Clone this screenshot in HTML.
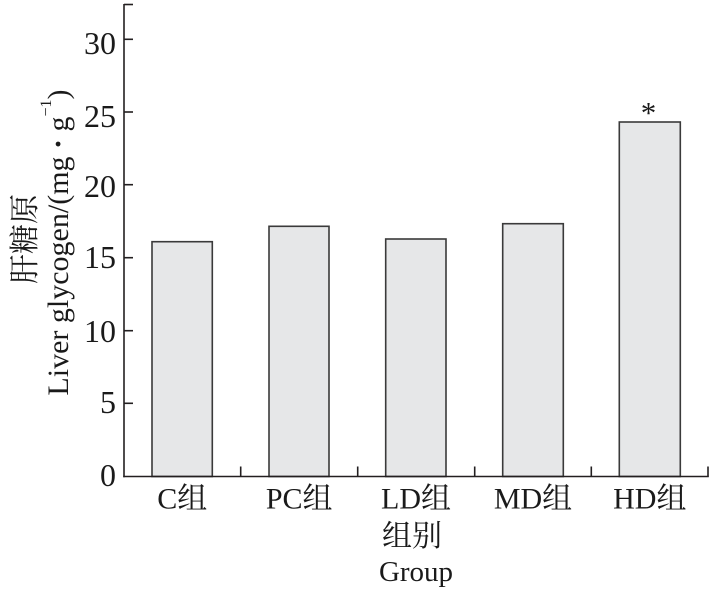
<!DOCTYPE html>
<html>
<head>
<meta charset="utf-8">
<style>
  html,body{margin:0;padding:0;background:#fff;}
  svg{display:block;font-family:"Liberation Serif","Times New Roman",Times,"Noto Serif CJK SC","DejaVu Serif",serif;}
  text{font-family:"Liberation Serif","Times New Roman",Times,"Noto Serif CJK SC","DejaVu Serif",serif;fill:#1a1a1a;}
</style>
</head>
<body>
<svg width="713" height="592" viewBox="0 0 713 592" xmlns="http://www.w3.org/2000/svg" font-family="'Liberation Serif', 'Times New Roman', Times, 'Noto Serif CJK SC', 'DejaVu Serif', serif">
  <!-- bars -->
  <g fill="#e6e7e8" stroke="#3a3a3a" stroke-width="1.6">
    <rect x="152" y="241.7" width="60.3" height="234.8"/>
    <rect x="269" y="226.3" width="60" height="250.2"/>
    <rect x="385.7" y="239" width="60.3" height="237.5"/>
    <rect x="502.7" y="223.7" width="60.6" height="252.8"/>
    <rect x="619.3" y="122" width="61" height="354.5"/>
  </g>

  <!-- axes -->
  <g stroke="#231f20" stroke-width="1.6" fill="none">
    <line x1="124" y1="4" x2="124" y2="477.3"/>
    <line x1="123.2" y1="476.5" x2="708.8" y2="476.5"/>
    <line x1="124" y1="4.5" x2="133" y2="4.5"/>
    <line x1="124" y1="39.3" x2="133" y2="39.3"/>
    <line x1="124" y1="112" x2="133" y2="112"/>
    <line x1="124" y1="184.7" x2="133" y2="184.7"/>
    <line x1="124" y1="257.7" x2="133" y2="257.7"/>
    <line x1="124" y1="330.7" x2="133" y2="330.7"/>
    <line x1="124" y1="403.3" x2="133" y2="403.3"/>
    <line x1="240.7" y1="476.5" x2="240.7" y2="466.5"/>
    <line x1="357.7" y1="476.5" x2="357.7" y2="466.5"/>
    <line x1="474.7" y1="476.5" x2="474.7" y2="466.5"/>
    <line x1="591.3" y1="476.5" x2="591.3" y2="466.5"/>
    <line x1="708" y1="476.5" x2="708" y2="466.5"/>
  </g>

  <!-- y tick labels -->
  <g font-size="32" text-anchor="end" font-family="'Liberation Serif', 'Times New Roman', Times, serif">
    <text x="116" y="54">30</text>
    <text x="116" y="127">25</text>
    <text x="116" y="197">20</text>
    <text x="116" y="268">15</text>
    <text x="116" y="342">10</text>
    <text x="116" y="413">5</text>
    <text x="116" y="486">0</text>
  </g>

  <!-- x tick labels -->
  <g font-size="30" text-anchor="middle">
    <text x="182.3" y="508.3">C组</text>
    <text x="299.2" y="508.3">PC组</text>
    <text x="416" y="508.3">LD组</text>
    <text x="533" y="508.3">MD组</text>
    <text x="649.8" y="508.3">HD组</text>
  </g>

  <!-- x axis title -->
  <text x="412" y="546" font-size="30" text-anchor="middle">组别</text>
  <text x="416" y="581" font-size="29" text-anchor="middle" font-family="'Liberation Serif', 'Times New Roman', Times, serif">Group</text>

  <!-- y axis title -->
  <text transform="translate(35,239) rotate(-90)" font-size="30" text-anchor="middle">肝糖原</text>
  <text transform="translate(68,242.5) rotate(-90)" font-size="30" text-anchor="middle" font-family="'Liberation Serif', 'Times New Roman', Times, serif">Liver glycogen/(mg <tspan font-weight="bold">·</tspan> g<tspan font-size="16" dy="-17">−1</tspan><tspan dy="17">)</tspan></text>

  <!-- significance asterisk -->
  <text x="648.5" y="123" font-size="31" text-anchor="middle" font-family="'Liberation Serif', 'Times New Roman', Times, serif">*</text>
</svg>
</body>
</html>
